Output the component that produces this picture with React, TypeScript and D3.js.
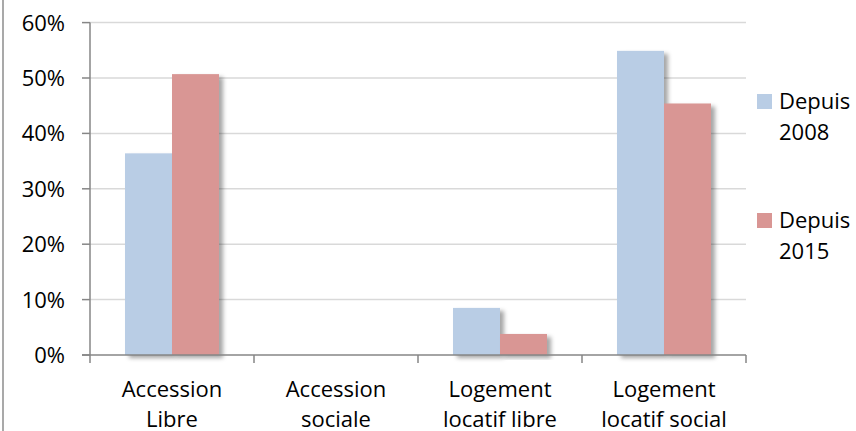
import React from "react";
import * as d3 from "d3";

const categories = [
  ["Accession", "Libre"],
  ["Accession", "sociale"],
  ["Logement", "locatif libre"],
  ["Logement", "locatif social"],
];
const seriesNames = [["Depuis", "2008"], ["Depuis", "2015"]];
const depuis2008 = [0.364, 0, 0.085, 0.549];
const depuis2015 = [0.507, 0, 0.038, 0.454];
const yTicks = [0, 0.1, 0.2, 0.3, 0.4, 0.5, 0.6];

const colors = ["#b9cde5", "#d99694"];
const font = "'Open Sans', sans-serif";

const App = () => {
  const width = 856;
  const height = 431;
  const margin = { top: 22.6, right: 110, bottom: 76, left: 90 };
  const plotBottom = height - margin.bottom;
  const plotRight = width - margin.right;

  const yScale = d3.scaleLinear().domain([0, 0.6]).range([plotBottom, margin.top]);
  const keys = categories.map((c) => c.join(" "));
  const xScale = d3.scaleBand<string>().domain(keys).range([margin.left, plotRight]).padding(0);
  const seriesKeys = ["s0", "s1"];
  const x1 = d3.scaleBand<string>().domain(seriesKeys).range([0, xScale.bandwidth()]).paddingInner(0).paddingOuter(0.745);
  const values = [depuis2008, depuis2015];
  const fmt = d3.format(".0%");

  return (
    <svg
      width={width}
      height={height}
      style={{ position: "fixed", left: 0, top: 0, background: "#fff" }}
      fontFamily={font}
    >
      <defs>
        <filter id="shadow" x="-20%" y="-20%" width="150%" height="140%">
          <feDropShadow dx={4} dy={3} stdDeviation={2.2} floodColor="#000" floodOpacity={0.35} />
        </filter>
      </defs>

      {/* left border of chart area */}
      <line x1={3} x2={3} y1={0} y2={height} stroke="#8c8c8c" strokeWidth={1.5} />

      {/* gridlines */}
      {yTicks.filter((t) => t > 0).map((t) => (
        <line key={t} x1={margin.left} x2={plotRight} y1={yScale(t)} y2={yScale(t)} stroke="#d9d9d9" strokeWidth={1.5} />
      ))}

      {/* bars */}
      {keys.map((k, i) => (
        <g key={k} transform={`translate(${xScale(k)},0)`}>
          {seriesKeys.map((s, j) =>
            values[j][i] > 0 ? (
              <rect
                key={s}
                x={x1(s)}
                y={yScale(values[j][i])}
                width={x1.bandwidth()}
                height={plotBottom - yScale(values[j][i])}
                fill={colors[j]}
                filter="url(#shadow)"
              />
            ) : null
          )}
        </g>
      ))}

      {/* y axis */}
      <line x1={margin.left} x2={margin.left} y1={margin.top} y2={plotBottom} stroke="#868686" strokeWidth={1.5} />
      {yTicks.map((t) => (
        <g key={t} transform={`translate(0,${yScale(t)})`}>
          <line x1={margin.left - 8} x2={margin.left} stroke="#868686" strokeWidth={1.5} />
          <text x={65} y={8} textAnchor="end" fontSize={22} fill="#000">
            {fmt(t)}
          </text>
        </g>
      ))}

      {/* x axis */}
      <line x1={margin.left - 8} x2={plotRight} y1={plotBottom} y2={plotBottom} stroke="#868686" strokeWidth={1.5} />
      {[...keys.map((k) => xScale(k) as number), plotRight].map((x, i) => (
        <line key={i} x1={x} x2={x} y1={plotBottom} y2={plotBottom + 8} stroke="#868686" strokeWidth={1.5} />
      ))}
      {categories.map((c, i) => (
        <text key={i} x={(xScale(keys[i]) as number) + xScale.bandwidth() / 2} textAnchor="middle" fontSize={22} fill="#000">
          <tspan x={(xScale(keys[i]) as number) + xScale.bandwidth() / 2} y={397}>{c[0]}</tspan>
          <tspan x={(xScale(keys[i]) as number) + xScale.bandwidth() / 2} y={427}>{c[1]}</tspan>
        </text>
      ))}

      {/* legend */}
      {seriesNames.map((n, j) => (
        <g key={j} transform={`translate(757,${94 + j * 119})`}>
          <rect x={0} y={0} width={15} height={15} fill={colors[j]} />
          <text x={22} y={15} fontSize={22} fill="#000">
            <tspan x={22} y={15}>{n[0]}</tspan>
            <tspan x={22} y={46}>{n[1]}</tspan>
          </text>
        </g>
      ))}
    </svg>
  );
};

export default App;
